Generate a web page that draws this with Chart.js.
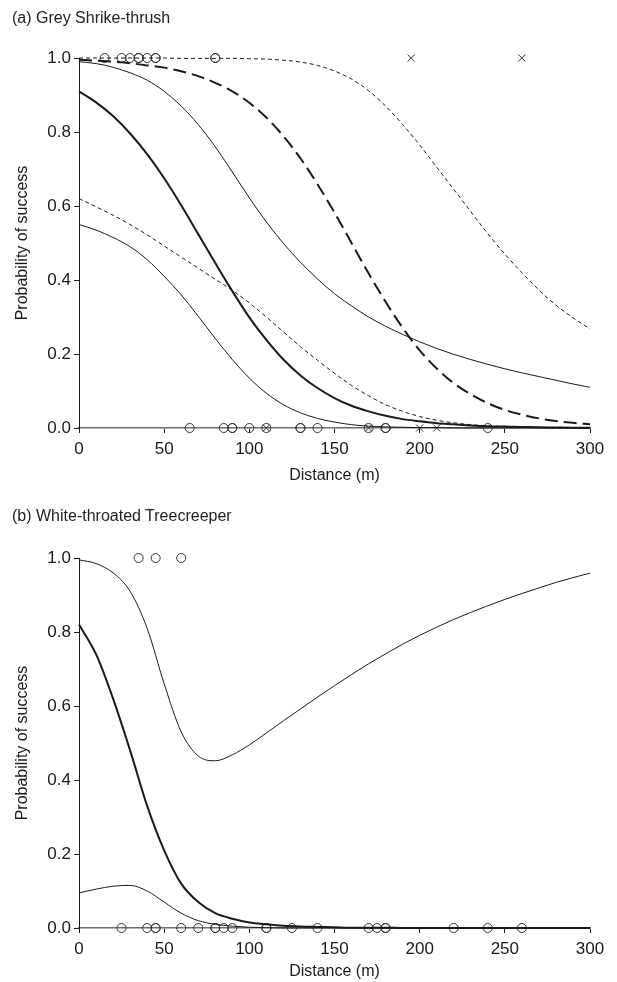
<!DOCTYPE html>
<html>
<head>
<meta charset="utf-8">
<script src="https://cdn.jsdelivr.net/npm/chart.js@4.4.1/dist/chart.umd.min.js"></script>
<style>
  html, body { margin: 0; padding: 0; background: #fff; }
  body { width: 617px; height: 982px; position: relative; overflow: hidden; font-family: 'Liberation Sans', Arial, sans-serif; }
  .panel { position: absolute; left: 0; width: 617px; }
  .panel-title { position: absolute; left: 12px; font-size: 16px; color: #222; }
</style>
</head>
<body>
<div class="panel" style="top:0;height:500px;"><canvas id="chartA" width="617" height="500"></canvas></div>
<div class="panel" style="top:500px;height:485px;"><canvas id="chartB" width="617" height="485"></canvas></div>
<div class="panel-title" style="top:9px;">(a) Grey Shrike-thrush</div>
<div class="panel-title" style="top:507px;">(b) White-throated Treecreeper</div>
<script>
// distance grid the curves were read at (m)
const distance = [0, 10, 20, 30, 40, 50, 60, 70, 80, 90, 100, 110, 120, 130, 140, 150,
                  160, 170, 180, 190, 200, 210, 220, 230, 240, 250, 260, 270, 280, 290, 300];

// (a) Grey Shrike-thrush
const aFit      = [0.91, 0.88, 0.843, 0.796, 0.74, 0.675, 0.602, 0.524, 0.446, 0.37, 0.299, 0.238, 0.185, 0.142, 0.108, 0.081,
                   0.06, 0.045, 0.033, 0.024, 0.018, 0.013, 0.01, 0.007, 0.005, 0.004, 0.003, 0.002, 0.0015, 0.001, 0.001];
const aUpper    = [0.99, 0.985, 0.975, 0.96, 0.94, 0.91, 0.87, 0.82, 0.76, 0.692, 0.622, 0.557, 0.499, 0.448, 0.403, 0.363,
                   0.33, 0.3, 0.275, 0.253, 0.233, 0.215, 0.199, 0.185, 0.172, 0.16, 0.149, 0.139, 0.129, 0.119, 0.11];
const aLower    = [0.55, 0.535, 0.515, 0.49, 0.455, 0.41, 0.36, 0.302, 0.242, 0.185, 0.135, 0.094, 0.063, 0.041, 0.026, 0.016,
                   0.009, 0.005, 0.003, 0.002, 0.001, 0.001, 0, 0, 0, 0, 0, 0, 0, 0, 0];
const aFit2     = [0.995, 0.993, 0.99, 0.986, 0.98, 0.974, 0.964, 0.951, 0.933, 0.91, 0.879, 0.839, 0.789, 0.729, 0.659, 0.582,
                   0.5, 0.418, 0.341, 0.271, 0.21, 0.161, 0.121, 0.091, 0.067, 0.049, 0.036, 0.026, 0.019, 0.014, 0.01];
const aUpper2   = [1.0, 1.0, 1.0, 1.0, 1.0, 1.0, 0.999, 0.999, 0.999, 0.999, 0.998, 0.997, 0.994, 0.989, 0.98, 0.965,
                   0.943, 0.912, 0.87, 0.82, 0.765, 0.705, 0.645, 0.585, 0.525, 0.47, 0.42, 0.373, 0.332, 0.298, 0.268];
const aLower2   = [0.62, 0.598, 0.575, 0.55, 0.522, 0.492, 0.462, 0.432, 0.402, 0.372, 0.338, 0.3, 0.26, 0.22, 0.183, 0.148,
                   0.115, 0.087, 0.063, 0.045, 0.031, 0.021, 0.014, 0.009, 0.006, 0.004, 0.002, 0.001, 0, 0, 0];
// observed outcomes (distance of each trial)
const aCirclesSuccess = [15, 25, 30, 35, 35, 40, 45, 45, 80, 80];
const aCirclesFail    = [65, 85, 90, 90, 100, 110, 130, 130, 140, 170, 180, 180, 240];
const aCrossesSuccess = [195, 260];
const aCrossesFail    = [110, 170, 200, 210];

// (b) White-throated Treecreeper
const bFit      = [0.82, 0.74, 0.62, 0.48, 0.33, 0.21, 0.12, 0.07, 0.04, 0.025, 0.015, 0.01, 0.006, 0.004, 0.003, 0.002,
                   0.001, 0.001, 0.001, 0, 0, 0, 0, 0, 0, 0, 0, 0, 0, 0, 0];
const bUpper    = [0.995, 0.985, 0.96, 0.91, 0.81, 0.66, 0.53, 0.465, 0.452, 0.468, 0.495, 0.527, 0.56, 0.592, 0.624, 0.655,
                   0.685, 0.714, 0.741, 0.767, 0.791, 0.813, 0.834, 0.853, 0.871, 0.888, 0.904, 0.919, 0.934, 0.947, 0.959];
const bLower    = [0.095, 0.105, 0.113, 0.115, 0.1, 0.07, 0.04, 0.02, 0.01, 0.005, 0.002, 0.001, 0, 0, 0, 0,
                   0, 0, 0, 0, 0, 0, 0, 0, 0, 0, 0, 0, 0, 0, 0];
const bCirclesSuccess = [35, 45, 60];
const bCirclesFail    = [25, 40, 45, 45, 60, 70, 80, 80, 85, 90, 110, 110, 125, 140, 170, 175, 180, 180, 220, 240, 260];

const xTicks = [0, 50, 100, 150, 200, 250, 300];
const yTicks = [0, 0.2, 0.4, 0.6, 0.8, 1.0];

const ink = '#1a1a1a';
const fontFamily = "'Liberation Sans', Arial, sans-serif";

const toPoints = (xs, ys) => xs.map((x, i) => ({ x, y: ys[i] }));
const atLevel = (xs, y) => xs.map(x => ({ x, y }));

function curve(values, width, dash) {
    return {
        type: 'line',
        data: toPoints(distance, values),
        borderColor: ink,
        borderWidth: width,
        borderDash: dash || [],
        pointRadius: 0,
        cubicInterpolationMode: 'monotone',
        fill: false,
        clip: false
    };
}

function marks(xs, y, style) {
    return {
        type: 'scatter',
        data: atLevel(xs, y),
        pointStyle: style,
        pointRadius: style === 'crossRot' ? 5 : 4.5,
        pointBorderWidth: 1,
        borderColor: '#333',
        backgroundColor: 'rgba(0,0,0,0)',
        clip: false
    };
}

function makeOptions(xAxisHeight, bottomPad) {
    return {
        responsive: false,
        animation: false,
        layout: { padding: { left: 0, right: 27, top: 58, bottom: bottomPad } },
        plugins: { legend: { display: false }, tooltip: { enabled: false } },
        scales: {
            x: {
                type: 'linear',
                min: 0, max: 300,
                afterBuildTicks: s => { s.ticks = xTicks.map(v => ({ value: v })); },
                afterFit: s => { s.height = xAxisHeight; },
                border: { display: true, color: '#6f6f6f', width: 1.5 },
                grid: { drawOnChartArea: false, drawTicks: true, tickLength: 5, color: ink },
                ticks: { color: ink, padding: 6, font: { family: fontFamily, size: 17 } },
                title: { display: true, text: 'Distance (m)', color: ink, padding: { top: 6 }, font: { family: fontFamily, size: 16 } }
            },
            y: {
                type: 'linear',
                min: 0, max: 1,
                afterBuildTicks: s => { s.ticks = yTicks.map(v => ({ value: v })); },
                afterFit: s => { s.width = 79; },
                border: { display: true, color: ink, width: 1 },
                grid: { drawOnChartArea: false, drawTicks: true, tickLength: 5, color: ink },
                ticks: { color: ink, padding: 3, callback: v => v.toFixed(1), font: { family: fontFamily, size: 17 } },
                title: { display: true, text: 'Probability of success', color: ink, padding: { top: 13, bottom: 4 }, font: { family: fontFamily, size: 16 } }
            }
        }
    };
}

new Chart(document.getElementById('chartA'), {
    type: 'scatter',
    data: {
        datasets: [
            curve(aUpper2, 1, [4, 3]),
            curve(aLower2, 1, [4, 3]),
            curve(aFit2, 2, [13, 6]),
            curve(aUpper, 1),
            curve(aLower, 1),
            curve(aFit, 2),
            marks(aCirclesSuccess, 1, 'circle'),
            marks(aCirclesFail, 0, 'circle'),
            marks(aCrossesSuccess, 1, 'crossRot'),
            marks(aCrossesFail, 0, 'crossRot')
        ]
    },
    options: makeOptions(61, 11)
});

new Chart(document.getElementById('chartB'), {
    type: 'scatter',
    data: {
        datasets: [
            curve(bUpper, 1),
            curve(bLower, 1),
            curve(bFit, 2),
            marks(bCirclesSuccess, 1, 'circle'),
            marks(bCirclesFail, 0, 'circle')
        ]
    },
    options: makeOptions(57, 0)
});
</script>
</body>
</html>
